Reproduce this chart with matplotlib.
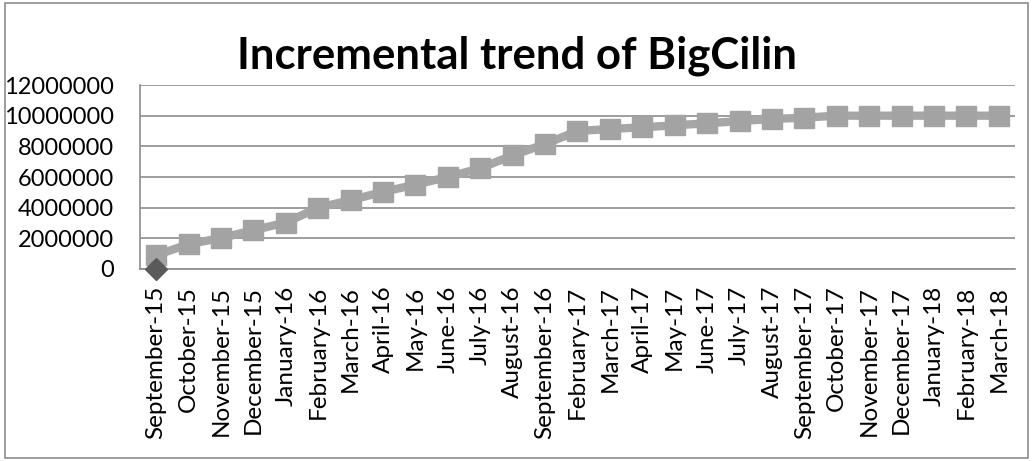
import numpy as np
import matplotlib.pyplot as plt
from matplotlib.patches import Rectangle

months = ['September-15', 'October-15', 'November-15', 'December-15', 'January-16',
          'February-16', 'March-16', 'April-16', 'May-16', 'June-16', 'July-16',
          'August-16', 'September-16', 'February-17', 'March-17', 'April-17', 'May-17',
          'June-17', 'July-17', 'August-17', 'September-17', 'October-17', 'November-17',
          'December-17', 'January-18', 'February-18', 'March-18']
users = [900000, 1620000, 2020000, 2530000, 3030000, 4000000, 4490000, 5030000,
         5500000, 6000000, 6570000, 7410000, 8150000, 9000000, 9130000, 9240000,
         9370000, 9500000, 9650000, 9780000, 9870000, 10000000, 10000000, 10000000,
         10000000, 10000000, 10000000]
start = [0]

plt.rcParams['font.family'] = ['Lato', 'DejaVu Sans']

fig = plt.figure(figsize=(10.34, 4.61), dpi=100)
ax = fig.add_axes([0.1354, 0.4165, 0.8462, 0.3991])

x = np.arange(len(months))
ax.plot(x, users, color='#a6a6a6', lw=6, marker='s', markersize=14,
        markerfacecolor='#a3a3a3', markeredgecolor='#a3a3a3', zorder=3)
ax.plot(x[:len(start)], start, linestyle='none', marker='D', markersize=11,
        color='#5a5a5a', zorder=4, clip_on=False)

ax.set_xlim(-0.5, len(months) - 0.5)
ax.set_ylim(0, 12000000)
ax.set_yticks(range(0, 12000001, 2000000))
ax.set_yticklabels([str(v) for v in range(0, 12000001, 2000000)], fontsize=17)
ax.set_xticks(x)
ax.set_xticklabels(months, rotation=90, fontsize=17.5)
ax.tick_params(axis='y', length=0, pad=19)
ax.tick_params(axis='x', length=0, pad=12)
ax.grid(axis='y', color='#8c8c8c', lw=1.2)
ax.set_axisbelow(True)
for s in ['top', 'right']:
    ax.spines[s].set_visible(False)
ax.spines['left'].set_color('#8c8c8c')
ax.spines['bottom'].set_color('#8c8c8c')
ax.spines['left'].set_linewidth(1.2)
ax.spines['bottom'].set_linewidth(1.2)

fig.text(0.5, 0.878, 'Incremental trend of BigCilin', ha='center', va='center',
         fontsize=31.5, fontweight='bold')
fig.patches.append(Rectangle((0.005, 0.007), 0.989, 0.986, transform=fig.transFigure,
                             fill=False, edgecolor='#8c8c8c', lw=1.2))

fig.savefig('out.png', dpi=100)
